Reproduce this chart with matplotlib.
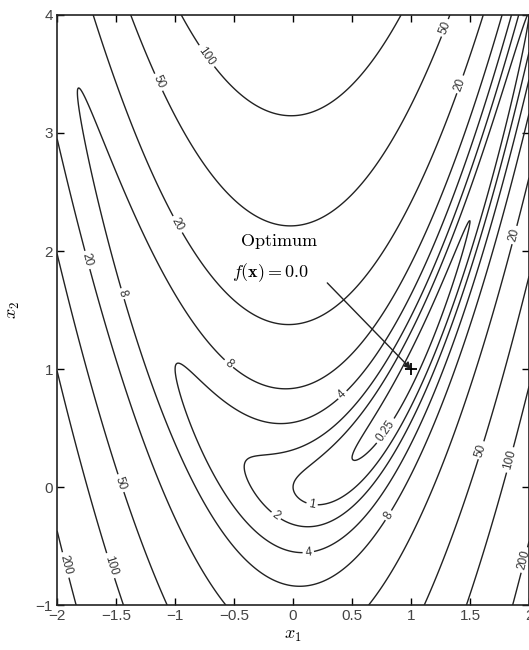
import numpy as np
import matplotlib
matplotlib.use('Agg')
import matplotlib.pyplot as plt

plt.rcParams['mathtext.fontset'] = 'cm'

# contour levels and axis range
levels = [0.25, 1, 2, 4, 8, 20, 50, 100, 200]
x1_range = [-2, 2]
x2_range = [-1, 4]
x_ticks = [-2, -1.5, -1, -0.5, 0, 0.5, 1, 1.5, 2]
x_tick_labels = ['\u22122', '\u22121.5', '\u22121', '\u22120.5', '0', '0.5', '1', '1.5', '2']
y_ticks = [-1, 0, 1, 2, 3, 4]
y_tick_labels = ['\u22121', '0', '1', '2', '3', '4']
optimum = (1.0, 1.0)

# where the contour labels sit (layout only)
label_spots = [(-0.75, 3.64), (-1.14, 3.43), (1.29, 3.89), (1.42, 3.41),
               (-0.99, 2.22), (-1.76, 1.92), (-1.44, 1.64), (1.86, 2.14),
               (-0.55, 1.04), (0.42, 0.78), (0.78, 0.48), (0.16, -0.15),
               (-0.15, -0.25), (0.13, -0.56), (0.81, -0.24), (1.6, 0.31),
               (1.84, 0.23), (1.97, -0.62), (-1.47, 0.03), (-1.53, -0.66),
               (-1.93, -0.66)]

# Rosenbrock-type function
x1 = np.linspace(x1_range[0], x1_range[1], 600)
x2 = np.linspace(x2_range[0], x2_range[1], 750)
X1, X2 = np.meshgrid(x1, x2)
F = (1 - X1)**2 + 10 * (X2 - X1**2)**2

fig = plt.figure(figsize=(5.29, 6.5), dpi=100)
ax = fig.add_axes([0.108, 0.069, 0.892, 0.908])

cs = ax.contour(X1, X2, F, levels=levels, colors='#222222', linewidths=1.0)

def fmt(v):
    return '0.25' if v < 1 else '%d' % v

labels = ax.clabel(cs, fmt=fmt, fontsize=8.5, manual=label_spots, inline=True, inline_spacing=2)
for t in labels:
    t.set_fontfamily('Liberation Sans')
    t.set_color('#333333')

# optimum marker + annotation
ax.plot(optimum[0], optimum[1], marker='+', color='black', markersize=9, mew=1.3)
ax.annotate('', xy=optimum, xytext=(0.29, 1.73),
            arrowprops=dict(arrowstyle='-|>', color='#222222', lw=1.0,
                            mutation_scale=10, shrinkA=0, shrinkB=0))
ax.text(-0.45, 2.08, r'$\mathrm{Optimum}$', fontsize=13, ha='left', va='center')
ax.text(-0.52, 1.82, r'$f(\mathbf{x}) = 0.0$', fontsize=13, ha='left', va='center')

ax.set_xlim(x1_range)
ax.set_ylim(x2_range)
ax.set_xticks(x_ticks)
ax.set_xticklabels(x_tick_labels)
ax.set_yticks(y_ticks)
ax.set_yticklabels(y_tick_labels)
ax.tick_params(direction='in', top=True, right=True, length=5, width=1,
               labelsize=11, labelcolor='#444444', pad=3)
for lab in ax.get_xticklabels() + ax.get_yticklabels():
    lab.set_fontfamily('Liberation Sans')
for s in ax.spines.values():
    s.set_linewidth(1.2)
    s.set_color('#222222')

ax.set_xlabel(r'$x_1$', fontsize=13, labelpad=2)
ax.set_ylabel(r'$x_2$', fontsize=13, labelpad=10)

fig.savefig('out.png', dpi=100)
